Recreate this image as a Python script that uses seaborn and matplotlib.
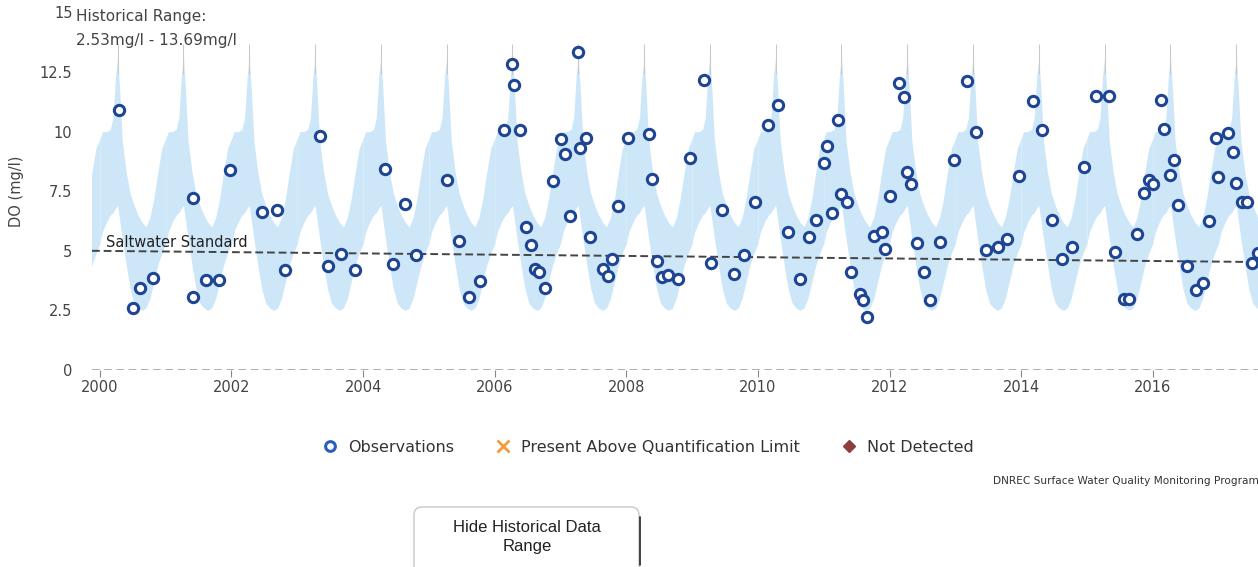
import numpy as np
import pandas as pd
import matplotlib.pyplot as plt
import seaborn as sns
from matplotlib.lines import Line2D
from matplotlib.patches import FancyBboxPatch

# observations (decimal year, DO mg/l)
obs_years = [
    2000.29, 2000.50, 2000.61, 2000.80, 2001.41, 2001.41, 2001.62, 2001.81, 2001.97,
    2002.47, 2002.69, 2002.81, 2003.35, 2003.47, 2003.66, 2003.87, 2004.34, 2004.46,
    2004.63, 2004.80, 2005.28, 2005.45, 2005.61, 2005.78, 2006.14, 2006.27, 2006.29,
    2006.38, 2006.47, 2006.55, 2006.61, 2006.68, 2006.77, 2006.88, 2007.01, 2007.07,
    2007.14, 2007.26, 2007.30, 2007.39, 2007.45, 2007.64, 2007.72, 2007.78, 2007.87,
    2008.02, 2008.35, 2008.39, 2008.46, 2008.54, 2008.64, 2008.78, 2008.97, 2009.18,
    2009.28, 2009.45, 2009.64, 2009.79, 2009.96, 2010.15, 2010.31, 2010.46, 2010.64,
    2010.77, 2010.88, 2011.00, 2011.05, 2011.12, 2011.22, 2011.27, 2011.36, 2011.42,
    2011.55, 2011.60, 2011.66, 2011.76, 2011.88, 2011.93, 2012.01, 2012.14, 2012.22,
    2012.26, 2012.32, 2012.42, 2012.52, 2012.61, 2012.76, 2012.98, 2013.18, 2013.31,
    2013.47, 2013.65, 2013.79, 2013.97, 2014.18, 2014.32, 2014.47, 2014.62, 2014.78,
    2014.96, 2015.14, 2015.33, 2015.43, 2015.57, 2015.64, 2015.76, 2015.86, 2015.95,
    2016.01, 2016.13, 2016.17, 2016.26, 2016.33, 2016.39, 2016.52, 2016.66, 2016.77,
    2016.86, 2016.96, 2016.99, 2017.14, 2017.22, 2017.27, 2017.36, 2017.43, 2017.51,
    2017.60,
]
obs_do = [
    10.90, 2.60, 3.44, 3.87, 7.20, 3.08, 3.78, 3.78, 8.40,
    6.64, 6.71, 4.20, 9.80, 4.36, 4.87, 4.20, 8.43, 4.43,
    6.95, 4.84, 7.98, 5.41, 3.07, 3.74, 10.07, 12.82, 11.95,
    10.05, 5.98, 5.24, 4.22, 4.12, 3.43, 7.94, 9.69, 9.06,
    6.47, 13.33, 9.33, 9.72, 5.57, 4.25, 3.94, 4.66, 6.89,
    9.72, 9.90, 8.00, 4.58, 3.89, 3.98, 3.80, 8.88, 12.16,
    4.50, 6.71, 4.03, 4.81, 7.03, 10.26, 11.12, 5.77, 3.80,
    5.59, 6.29, 8.70, 9.41, 6.60, 10.48, 7.38, 7.06, 4.10,
    3.20, 2.92, 2.24, 5.64, 5.80, 5.08, 7.30, 12.02, 11.44,
    8.30, 7.82, 5.34, 4.09, 2.94, 5.37, 8.80, 12.12, 9.97,
    5.05, 5.14, 5.49, 8.14, 11.30, 10.08, 6.29, 4.64, 5.17,
    8.51, 11.51, 11.51, 4.96, 2.98, 2.98, 5.69, 7.41, 7.95,
    7.80, 11.33, 10.09, 8.18, 8.81, 6.92, 4.38, 3.36, 3.64,
    6.26, 9.72, 8.11, 9.96, 9.16, 7.84, 7.04, 7.04, 4.50,
    4.90,
]

# historical range by time of year (same band every year)
range_frac = [0.00, 0.04, 0.10, 0.16, 0.20, 0.24, 0.27, 0.30, 0.34, 0.40,
              0.46, 0.52, 0.58, 0.64, 0.70, 0.76, 0.82, 0.88, 0.94, 1.00]
range_low = [5.3, 5.8, 6.2, 6.5, 6.6, 6.8, 6.9, 6.3, 5.5, 4.4,
             3.4, 2.8, 2.6, 2.5, 2.6, 3.0, 3.7, 4.4, 4.9, 5.3]
range_high = [9.7, 10.0, 10.0, 10.1, 10.6, 12.4, 13.1, 11.8, 9.6, 8.3,
              7.4, 6.9, 6.5, 6.2, 6.0, 6.4, 7.2, 8.3, 9.3, 9.7]
peak_frac = 0.27
hist_min, hist_max = 2.53, 13.69
band_years = list(range(1999, 2018))

# saltwater standard line end points
std_years = [1999.88, 2017.60]
std_do = [5.00, 4.53]

year_ticks = list(range(2000, 2017, 2))
y_ticks = [0, 2.5, 5, 7.5, 10, 12.5, 15]
y_labels = ["0", "2.5", "5", "7.5", "10", "12.5", "15"]

sns.set_style("white")
plt.rcParams['font.family'] = ['DejaVu Sans']

W, H = 1258, 567
fig = plt.figure(figsize=(W / 100, H / 100), dpi=100)
ax = fig.add_axes([92 / W, 1 - 370 / H, 1 - 92 / W, (370 - 12.4) / H])

# historical range band
for yr in band_years:
    xs = [yr + f for f in range_frac]
    ax.fill_between(xs, range_low, range_high, color='#cde7f9', lw=0, zorder=1)
ax.vlines([yr + peak_frac for yr in band_years], 12.4, hist_max,
          color='#c9c9c9', lw=0.8, zorder=1)

# saltwater standard
ax.plot(std_years, std_do, color='#444444', lw=1.4, ls=(0, (4, 2)), zorder=2)
ax.text(2000.1, 5.05, "Saltwater Standard", fontsize=10.5, color='#222222',
        va='bottom', ha='left', zorder=3)

# observations
df = pd.DataFrame({"year": obs_years, "DO": obs_do})
sns.scatterplot(data=df, x="year", y="DO", ax=ax, marker='o', s=55,
                facecolor='white', edgecolor='#1d4594', linewidth=2.2,
                zorder=4, clip_on=False)

ax.axhline(0, color='#999999', lw=1.1, ls=(0, (5, 3)), zorder=1)

ax.set_xlim(1999.88, 2017.60)
ax.set_ylim(0, 15)
ax.set_xticks(year_ticks)
ax.set_xticklabels([str(y) for y in year_ticks])
ax.set_yticks(y_ticks)
ax.set_yticklabels(y_labels)
ax.tick_params(axis='x', length=5, width=0.8, color='#888888', pad=2,
               labelsize=10.5, labelcolor='#444444', direction='out', bottom=True)
ax.tick_params(axis='y', length=0, pad=14, labelsize=10.5, labelcolor='#444444')
for s in ax.spines.values():
    s.set_visible(False)
ax.set_xlabel("")
ax.set_ylabel("DO (mg/l)", fontsize=10.5, color='#444444')
ax.yaxis.set_label_coords(-(92 - 24) / 1166, 0.5)

fig.text(76 / W, 1 - 17 / H, "Historical Range:", fontsize=11, color='#444444', va='center')
fig.text(76 / W, 1 - 40 / H, "2.53mg/l - 13.69mg/l", fontsize=11, color='#444444', va='center')

handles = [
    Line2D([], [], ls='none', marker='o', ms=7, mfc='white', mec='#2a5fc0', mew=2.2),
    Line2D([], [], ls='none', marker='x', ms=8, mec='#f39c3c', mew=2),
    Line2D([], [], ls='none', marker='D', ms=6.5, mfc='#8e3e3e', mec='#8e3e3e'),
]
fig.legend(handles, ["Observations", "Present Above Quantification Limit", "Not Detected"],
           loc='center', bbox_to_anchor=(648 / W, 1 - 447 / H), ncol=3, frameon=False,
           fontsize=11.5, handlelength=1, handletextpad=0.6, columnspacing=2.6,
           labelcolor='#333333')

fig.text(993 / W, 1 - 481 / H, "DNREC Surface Water Quality Monitoring Program",
         fontsize=7.6, color='#333333', va='center', ha='left')

# button below chart
btn = FancyBboxPatch((4.14, -0.10), 2.25, 0.70, boxstyle="round,pad=0,rounding_size=0.08",
                     transform=fig.dpi_scale_trans, facecolor='white',
                     edgecolor='#c8c8c8', lw=1)
fig.patches.append(btn)
fig.add_artist(Line2D([6.40, 6.40], [0.02, 0.50], transform=fig.dpi_scale_trans,
                      color='#333333', lw=1.3))
fig.text(5.27, 0.30, "Hide Historical Data\nRange", transform=fig.dpi_scale_trans,
         ha='center', va='center', fontsize=12, family='Liberation Sans',
         color='#222222', linespacing=1.3)

fig.savefig("out.png", dpi=100)
